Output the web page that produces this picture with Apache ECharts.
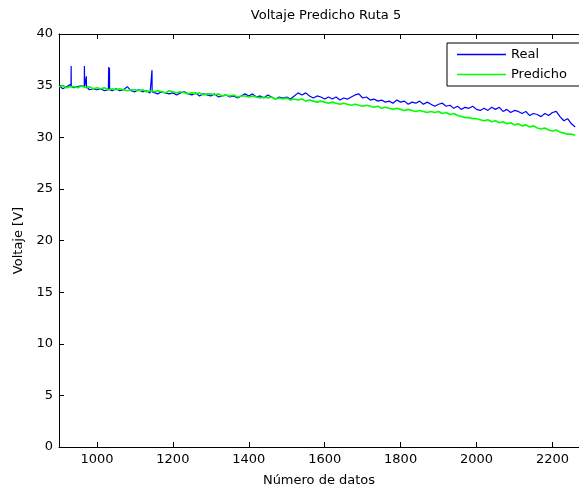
<!DOCTYPE html>
<html>
<head>
<meta charset="utf-8">
<script src="https://cdn.jsdelivr.net/npm/echarts@6/dist/echarts.min.js"></script>
<style>html,body{margin:0;padding:0;background:#fff;}#c{width:579px;height:492px;}</style>
</head>
<body>
<div id="c"></div>
<script>
const titulo = "Voltaje Predicho Ruta 5";
const nombreX = "Número de datos";
const nombreY = "Voltaje [V]";
const serieNombres = ["Real", "Predicho"];
const xTicks = [1000, 1200, 1400, 1600, 1800, 2000, 2200];
const xInicio = 900;
const xPaso = 10;
const real = [
35.0,34.7,34.9,35.1,34.8,34.9,35.0,34.8,34.6,34.7,
34.6,34.7,34.5,34.6,34.5,34.7,34.5,34.6,34.9,34.5,
34.4,34.6,34.4,34.5,34.3,34.4,34.2,34.4,34.3,34.2,
34.3,34.1,34.3,34.4,34.2,34.1,34.3,34.0,34.2,34.1,
34.0,34.2,33.9,34.0,34.1,33.9,34.0,33.8,34.0,34.2,
34.0,34.2,33.9,34.0,33.8,34.1,33.9,33.7,33.9,33.8,
33.9,33.7,34.0,34.3,34.1,34.3,34.0,33.8,34.0,33.9,
33.7,33.9,33.7,33.9,33.6,33.8,33.7,33.9,34.1,34.2,
33.8,33.9,33.6,33.7,33.5,33.6,33.4,33.5,33.3,33.6,
33.4,33.5,33.2,33.4,33.3,33.5,33.2,33.4,33.2,33.0,
33.2,33.3,33.0,33.1,32.8,33.0,32.7,32.9,32.8,33.0,
32.7,32.6,32.8,32.6,32.9,32.7,32.9,32.5,32.7,32.4,
32.6,32.5,32.3,32.5,32.1,32.3,32.2,32.0,32.3,32.1,
32.4,32.5,32.0,31.6,31.8,31.3,31.0
];
const predicho = [
34.9,35.0,34.8,34.9,34.9,34.8,35.0,34.8,34.9,34.7,
34.8,34.7,34.8,34.6,34.7,34.6,34.7,34.6,34.5,34.6,
34.6,34.5,34.6,34.4,34.5,34.4,34.5,34.4,34.3,34.5,
34.4,34.3,34.4,34.3,34.2,34.3,34.2,34.3,34.1,34.2,
34.2,34.1,34.2,34.0,34.1,34.0,34.1,33.9,34.0,34.0,
33.9,34.0,33.9,33.8,33.9,33.8,33.9,33.7,33.8,33.7,
33.8,33.6,33.7,33.6,33.7,33.5,33.6,33.5,33.4,33.5,
33.4,33.3,33.4,33.3,33.2,33.3,33.2,33.1,33.2,33.1,
33.0,33.1,33.0,32.9,33.0,32.8,32.9,32.8,32.7,32.8,
32.7,32.6,32.7,32.6,32.5,32.6,32.5,32.4,32.5,32.4,
32.5,32.3,32.4,32.2,32.3,32.1,32.0,31.9,31.9,31.8,
31.8,31.7,31.6,31.7,31.5,31.6,31.4,31.5,31.3,31.4,
31.2,31.3,31.1,31.2,31.0,31.1,30.9,30.8,30.9,30.7,
30.6,30.7,30.5,30.4,30.3,30.3,30.2
];
// spikes in the Real series
const picosX = [932, 967, 972, 1031, 1033, 1145];
const picosV = [36.9, 36.9, 35.9, 36.8, 36.7, 36.5];
const picosBase = [34.9, 34.9, 34.9, 34.6, 34.6, 34.4];

const realData = real.map((v, i) => [xInicio + i * xPaso, v]);
picosX.forEach((x, k) => {
  realData.push([x - 0.4, picosBase[k]], [x, picosV[k]], [x + 0.4, picosBase[k]]);
});
realData.sort((a, b) => a[0] - b[0]);
const predData = predicho.map((v, i) => [xInicio + i * xPaso, v]);

const font = "DejaVu Sans";
const chart = echarts.init(document.getElementById('c'), null, {renderer: 'canvas'});
const axisLine = {show: true, lineStyle: {color: '#000', width: 1}};
chart.setOption({
  animation: false,
  backgroundColor: '#fff',
  title: {
    text: titulo, left: 321, top: 4, textAlign: 'center',
    textStyle: {fontFamily: font, fontSize: 13, fontWeight: 'normal', color: '#000'}
  },
  legend: {
    data: serieNombres, orient: 'vertical', left: 447, top: 43,
    padding: [5, 15, 5, 10], itemGap: 7, itemWidth: 49, itemHeight: 1.5, icon: 'rect',
    borderColor: '#000', borderWidth: 1, backgroundColor: '#fff',
    textStyle: {fontFamily: font, fontSize: 13, color: '#000'}
  },
  grid: {left: 59, top: 34, width: 524, height: 416},
  xAxis: [{
    type: 'value', min: 900, max: 2270, position: 'bottom',
    name: nombreX, nameLocation: 'middle', nameGap: 27,
    nameTextStyle: {fontFamily: font, fontSize: 13, color: '#000'},
    axisLine: axisLine,
    axisTick: {show: true, inside: true, length: 5, customValues: xTicks, lineStyle: {color: '#000'}},
    axisLabel: {customValues: xTicks, margin: 6, fontFamily: font, fontSize: 13, color: '#000',
      formatter: v => String(v)},
    splitLine: {show: false}
  }, {
    type: 'value', min: 900, max: 2270, position: 'top',
    axisLine: axisLine,
    axisTick: {show: true, inside: true, length: 5, customValues: xTicks, lineStyle: {color: '#000'}},
    axisLabel: {show: false},
    splitLine: {show: false}
  }],
  yAxis: {
    type: 'value', min: 0, max: 40, interval: 5,
    name: nombreY, nameLocation: 'middle', nameGap: 33, nameRotate: 90,
    nameTextStyle: {fontFamily: font, fontSize: 13, color: '#000'},
    axisLine: axisLine,
    axisTick: {show: true, inside: true, length: 5, lineStyle: {color: '#000'}},
    axisLabel: {margin: 6, fontFamily: font, fontSize: 13, color: '#000'},
    splitLine: {show: false}
  },
  series: [{
    name: serieNombres[0], type: 'line', xAxisIndex: 0, data: realData,
    showSymbol: false, symbol: 'none', lineStyle: {color: '#0000ff', width: 1.2}, itemStyle: {color: '#0000ff'}
  }, {
    name: serieNombres[1], type: 'line', xAxisIndex: 0, data: predData,
    showSymbol: false, symbol: 'none', lineStyle: {color: '#00ff00', width: 1.6}, itemStyle: {color: '#00ff00'}
  }]
});
</script>
</body>
</html>
